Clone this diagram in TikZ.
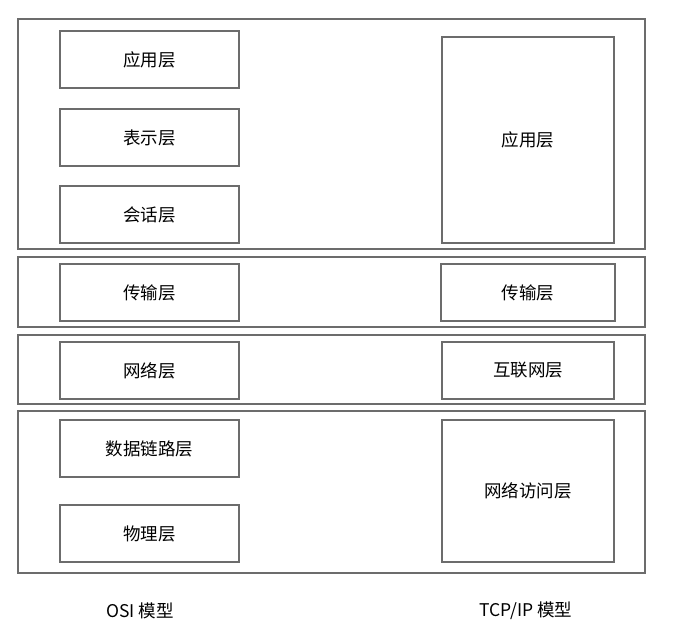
\documentclass[tikz,border=0pt]{standalone}
\usepackage{fontspec}
\setmainfont{Noto Sans CJK SC}
\definecolor{linegray}{RGB}{108,108,108}
\begin{document}
\begin{tikzpicture}[x=1pt,y=-1pt,
  layerbox/.style={draw=linegray, line width=1.3pt, rectangle, inner sep=0pt,
    font=\fontsize{17.5}{20}\selectfont},
  band/.style={layerbox},
  osibox/.style={layerbox, minimum width=179pt, minimum height=57pt},
  tcpbox/.style={layerbox, minimum width=172pt},
  caption/.style={font=\fontsize{17.5}{20}\selectfont, inner sep=0pt},
]
\useasboundingbox[fill=white] (0,0) rectangle (681,644);

% horizontal bands grouping corresponding layers
\node[band, minimum width=627pt, minimum height=230pt] (band1) at (331.5,134) {};
\node[band, minimum width=627pt, minimum height=70pt]  (band2) at (331.5,292) {};
\node[band, minimum width=627pt, minimum height=69pt]  (band3) at (331.5,369.5) {};
\node[band, minimum width=627pt, minimum height=162pt] (band4) at (331.5,492) {};

% OSI model layers
\node[osibox] (osi7) at (149.5,59.5)  {应用层};
\node[osibox] (osi6) at (149.5,137.5) {表示层};
\node[osibox] (osi5) at (149.5,214.5) {会话层};
\node[osibox] (osi4) at (149.5,292.5) {传输层};
\node[osibox] (osi3) at (149.5,370.5) {网络层};
\node[osibox] (osi2) at (149.5,448.5) {数据链路层};
\node[osibox] (osi1) at (149.5,533.5) {物理层};

% TCP/IP model layers
\node[tcpbox, minimum height=206pt] (tcp4) at (528,140) {应用层};
\node[tcpbox, minimum width=174pt, minimum height=57pt] (tcp3) at (528,292.5) {传输层};
\node[tcpbox, minimum height=57pt]  (tcp2) at (528,370.5) {互联网层};
\node[tcpbox, minimum height=142pt] (tcp1) at (528,491) {网络访问层};

% captions
\node[caption] (osicap) at (140,611) {OSI 模型};
\node[caption] (tcpcap) at (526,611) {TCP/IP 模型};
\end{tikzpicture}
\end{document}
